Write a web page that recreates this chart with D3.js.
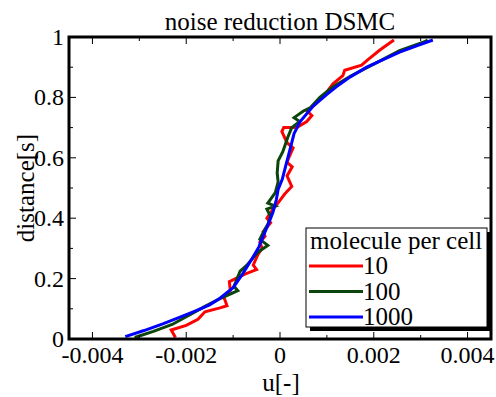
<!DOCTYPE html>
<html>
<head>
<meta charset="utf-8">
<script src="https://cdn.jsdelivr.net/npm/d3@7"></script>
<style>
  body { margin: 0; background: #fff; }
  svg text { font-family: "Times New Roman", "Liberation Serif", serif; fill: #000; }
</style>
</head>
<body>
<div id="chart"></div>
<script>
var width = 496;
var height = 397;

// tick values and their labels
var xTicks = [-0.004, -0.002, 0, 0.002, 0.004];
var xTickLabels = ["-0.004", "-0.002", "0", "0.002", "0.004"];
var xMinor = [-0.003, -0.001, 0.001, 0.003];
var yTicks = [0, 0.2, 0.4, 0.6, 0.8, 1];
var yTickLabels = ["0", "0.2", "0.4", "0.6", "0.8", "1"];
var yMinor = [0.1, 0.3, 0.5, 0.7, 0.9];

var seriesNames = ["10", "100", "1000"];
var seriesColors = ["#ff0000", "#0c450c", "#0000ff"];

// [u, distance]
var mol10 = [
    [-0.00223, 0.005], [-0.00232, 0.03], [-0.0020, 0.045], [-0.00175, 0.065], [-0.0016, 0.09],
    [-0.00128, 0.103], [-0.00113, 0.11], [-0.0012, 0.14], [-0.00106, 0.16], [-0.00108, 0.19],
    [-0.00075, 0.215], [-0.0005, 0.23], [-0.00057, 0.245], [-0.00047, 0.28], [-0.00038, 0.30],
    [-0.00043, 0.32], [-0.00032, 0.34], [-0.00036, 0.355], [-0.0002, 0.385], [-0.00028, 0.40],
    [-0.00015, 0.43], [-0.00002, 0.455], [0.0001, 0.48], [0.00025, 0.505], [0.00015, 0.54],
    [0.00026, 0.57], [0.00015, 0.585], [0.0002, 0.605], [0.00028, 0.633], [0.00015, 0.65],
    [0.00004, 0.687], [0.00008, 0.70], [0.00036, 0.70], [0.00057, 0.72], [0.00068, 0.74],
    [0.00058, 0.755], [0.00074, 0.775], [0.00096, 0.81], [0.00113, 0.845], [0.00134, 0.872],
    [0.00138, 0.89], [0.00174, 0.907], [0.00187, 0.924], [0.00213, 0.957], [0.00243, 0.99]
];
var mol100 = [
    [-0.0031, 0.005], [-0.0027, 0.025], [-0.0023, 0.048], [-0.0019, 0.082], [-0.0016, 0.108],
    [-0.0013, 0.132], [-0.0009, 0.16], [-0.00098, 0.175], [-0.00085, 0.225], [-0.0007, 0.245],
    [-0.00057, 0.27], [-0.00045, 0.29], [-0.00026, 0.31], [-0.00043, 0.33], [-0.00035, 0.355],
    [-0.00026, 0.38], [-0.0002, 0.405], [-0.00028, 0.43], [-0.0001, 0.44], [-0.00026, 0.45],
    [-0.0001, 0.485], [-0.00004, 0.52], [-0.00006, 0.55], [-0.00004, 0.59], [0.00006, 0.62],
    [0.00017, 0.67], [0.00025, 0.70], [0.00042, 0.72], [0.0003, 0.733], [0.0005, 0.755],
    [0.00064, 0.765], [0.00085, 0.80], [0.00113, 0.835], [0.0015, 0.87], [0.002, 0.91],
    [0.00255, 0.955], [0.0031, 0.985], [0.00315, 0.99]
];
var mol1000 = [
    [-0.0033, 0.008], [-0.0029, 0.028], [-0.0025, 0.05], [-0.0022, 0.068], [-0.00185, 0.09],
    [-0.0015, 0.113], [-0.00128, 0.135], [-0.001, 0.17], [-0.0008, 0.215], [-0.0006, 0.265],
    [-0.00045, 0.305], [-0.00036, 0.34], [-0.00025, 0.38], [-0.00015, 0.42], [-0.00008, 0.46],
    [-0.00004, 0.495], [0.00005, 0.53], [0.0001, 0.56], [0.0002, 0.62], [0.0003, 0.68],
    [0.00043, 0.72], [0.0007, 0.77], [0.001, 0.81], [0.0012, 0.835], [0.0015, 0.868],
    [0.00185, 0.9], [0.0022, 0.925], [0.00255, 0.95], [0.0029, 0.97], [0.00326, 0.99]
];

var margin = {left: 69, right: 5, top: 37, bottom: 58};
var serif = "'Times New Roman', 'Liberation Serif', serif";

var x = d3.scaleLinear().domain([-0.0045, 0.0045]).range([margin.left, width - margin.right]);
var y = d3.scaleLinear().domain([0, 1]).range([height - margin.bottom, margin.top]);

var svg = d3.select("#chart").append("svg")
    .attr("width", width)
    .attr("height", height)
    .attr("font-family", serif);

var line = d3.line()
    .x(d => x(d[0]))
    .y(d => y(d[1]));

var allSeries = [mol10, mol100, mol1000];

svg.append("g")
    .selectAll("path")
    .data(allSeries)
    .join("path")
    .attr("d", line)
    .attr("fill", "none")
    .attr("stroke", (d, i) => seriesColors[i])
    .attr("stroke-width", 3)
    .attr("stroke-linejoin", "miter");

// ticks, pointing inward on all four sides
var x0 = x.range()[0], x1 = x.range()[1];
var y0 = y.range()[0], y1 = y.range()[1];

function addTicks(g, vals, len) {
    vals.forEach(v => {
        g.append("line").attr("x1", x(v)).attr("x2", x(v)).attr("y1", y0).attr("y2", y0 - len);
        g.append("line").attr("x1", x(v)).attr("x2", x(v)).attr("y1", y1).attr("y2", y1 + len);
    });
}
function addYTicks(g, vals, len) {
    vals.forEach(v => {
        g.append("line").attr("y1", y(v)).attr("y2", y(v)).attr("x1", x0).attr("x2", x0 + len);
        g.append("line").attr("y1", y(v)).attr("y2", y(v)).attr("x1", x1).attr("x2", x1 - len);
    });
}

var tg = svg.append("g").attr("stroke", "#000").attr("stroke-width", 1);
addTicks(tg, xTicks, 7);
addTicks(tg, xMinor, 4);
addYTicks(tg, yTicks, 7);
addYTicks(tg, yMinor, 4);

// frame
svg.append("rect")
    .attr("x", x0)
    .attr("y", y1)
    .attr("width", x1 - x0)
    .attr("height", y0 - y1)
    .attr("fill", "none")
    .attr("stroke", "#000")
    .attr("stroke-width", 3);

// tick labels
svg.append("g")
    .selectAll("text")
    .data(xTicks)
    .join("text")
    .attr("x", d => x(d))
    .attr("y", 363)
    .attr("text-anchor", "middle")
    .attr("font-size", 24)
    .text((d, i) => xTickLabels[i]);

svg.append("g")
    .selectAll("text")
    .data(yTicks)
    .join("text")
    .attr("x", 64)
    .attr("y", d => y(d) + 8)
    .attr("text-anchor", "end")
    .attr("font-size", 24)
    .text((d, i) => yTickLabels[i]);

// titles
svg.append("text")
    .attr("x", (x0 + x1) / 2)
    .attr("y", 30)
    .attr("text-anchor", "middle")
    .attr("font-size", 25)
    .text("noise reduction DSMC");

svg.append("text")
    .attr("x", 281)
    .attr("y", 391)
    .attr("text-anchor", "middle")
    .attr("font-size", 25)
    .text("u[-]");

svg.append("text")
    .attr("transform", "translate(34," + 188 + ") rotate(-90)")
    .attr("text-anchor", "middle")
    .attr("font-size", 25)
    .text("distance[s]");

// legend with drop shadow
var lg = svg.append("g").attr("transform", "translate(306,228)");
lg.append("rect")
    .attr("x", 4).attr("y", 4)
    .attr("width", 181).attr("height", 99)
    .attr("fill", "#000");
lg.append("rect")
    .attr("x", 0).attr("y", 0)
    .attr("width", 181).attr("height", 99)
    .attr("fill", "#fff")
    .attr("stroke", "#000")
    .attr("stroke-width", 1);
lg.append("text")
    .attr("x", 4)
    .attr("y", 21)
    .attr("font-size", 25)
    .text("molecule per cell");

var item = lg.selectAll("g.item")
    .data(seriesNames)
    .join("g")
    .attr("class", "item")
    .attr("transform", (d, i) => "translate(0," + (38 + i * 25.5) + ")");
item.append("line")
    .attr("x1", 3).attr("x2", 57)
    .attr("y1", 0).attr("y2", 0)
    .attr("stroke", (d, i) => seriesColors[i])
    .attr("stroke-width", 3);
item.append("text")
    .attr("x", 57)
    .attr("y", 8)
    .attr("font-size", 25)
    .text(d => d);
</script>
</body>
</html>
